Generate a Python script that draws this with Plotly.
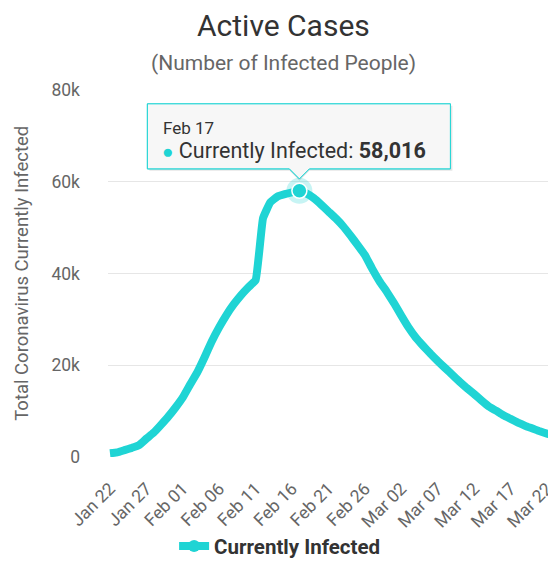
import datetime as dt
import plotly.graph_objects as go

# ---------------- data ----------------
start_date = "2020-01-22"
active_k = [
    0.8, 1.0, 1.5, 2.0, 2.6, 4.0, 5.3, 7.0, 8.8, 10.8,          # Jan 22 - Jan 31
    13.0, 15.8, 18.5, 21.8, 25.3, 28.3, 31.0, 33.3, 35.3, 37.0,  # Feb 01 - Feb 10
    38.6, 52.0, 55.5, 56.8, 57.3, 57.7, 58.016, 57.4, 56.4, 55.0,  # Feb 11 - Feb 20
    53.5, 52.0, 50.3, 48.3, 46.2, 44.0, 41.0, 38.3, 36.0,        # Feb 21 - Feb 29
    33.5, 30.8, 28.2, 26.0, 24.2, 22.5, 20.9, 19.4, 17.9, 16.4,  # Mar 01 - Mar 10
    15.0, 13.7, 12.3, 11.0, 10.1, 9.1, 8.3, 7.5, 6.8, 6.2,       # Mar 11 - Mar 20
    5.6, 5.1, 4.7,                                               # Mar 21 - Mar 23
]
series_name = "Currently Infected"
tick_labels = ["Jan 22", "Jan 27", "Feb 01", "Feb 06", "Feb 11", "Feb 16", "Feb 21",
               "Feb 26", "Mar 02", "Mar 07", "Mar 12", "Mar 17", "Mar 22"]
y_tick_vals = [0, 20000, 40000, 60000, 80000]
y_tick_text = ["0", "20k", "40k", "60k", "80k"]

# ---------------- derived ----------------
d0 = dt.date.fromisoformat(start_date)
dates = [d0 + dt.timedelta(days=i) for i in range(len(active_k))]
values = [round(v * 1000) for v in active_k]
tick_dates = [dt.datetime.strptime(t + " 2020", "%b %d %Y").date() for t in tick_labels]

peak_i = max(range(len(values)), key=lambda i: values[i])
peak_date, peak_val = dates[peak_i], values[peak_i]

COLOR = "#1fd4d4"
FONT = "Roboto"

fig = go.Figure()
fig.add_trace(go.Scatter(
    x=dates, y=values, mode="lines", name=series_name,
    line=dict(color=COLOR, width=8, shape="spline", smoothing=0.3),
    hoverinfo="skip", showlegend=False,
))
# legend entry
fig.add_trace(go.Scatter(
    x=[None], y=[None], mode="lines+markers", name=series_name,
    line=dict(color=COLOR, width=8),
    marker=dict(size=12, color=COLOR, line=dict(width=0)),
))
# highlighted point (halo + marker)
fig.add_trace(go.Scatter(
    x=[peak_date], y=[peak_val], mode="markers",
    marker=dict(size=26, color="rgba(31,212,212,0.25)", line=dict(width=0)),
    showlegend=False, hoverinfo="skip", cliponaxis=False,
))
fig.add_trace(go.Scatter(
    x=[peak_date], y=[peak_val], mode="markers",
    marker=dict(size=15, color=COLOR, line=dict(width=1.5, color="white")),
    showlegend=False, hoverinfo="skip", cliponaxis=False,
))

# tooltip callout (pixel-sized, anchored on the peak point)
callout = "M -152,22 L -10,22 L 0,12 L 10,22 L 151,22 L 151,87 L -152,87 Z"
shadow = "M -150,20 L -10,20 L 0,10 L 10,20 L 153,20 L 153,85 L -150,85 Z"
for path, fill, line in [(shadow, "rgba(0,0,0,0.10)", "rgba(0,0,0,0)"),
                         (callout, "rgba(247,247,247,0.97)", COLOR)]:
    fig.add_shape(type="path", path=path, xsizemode="pixel", ysizemode="pixel",
                  xanchor=peak_date, yanchor=peak_val, xref="x", yref="y",
                  fillcolor=fill, line=dict(color=line, width=1), layer="above")

fig.add_annotation(
    x=peak_date, y=peak_val, xref="x", yref="y", xshift=-138, yshift=63,
    xanchor="left", yanchor="middle", showarrow=False,
    text=peak_date.strftime("%b ") + str(peak_date.day),
    font=dict(family=FONT, size=17, color="#333333"),
)
fig.add_annotation(
    x=peak_date, y=peak_val, xref="x", yref="y", xshift=-139, yshift=40,
    xanchor="left", yanchor="middle", showarrow=False,
    text=(f"<span style='color:{COLOR};font-size:19px'>●</span> {series_name}: "
          f"<b>{peak_val:,}</b>"),
    font=dict(family=FONT, size=21.5, color="#333333"),
)

# titles
fig.add_annotation(xref="paper", yref="paper", x=0.398, y=1.175, showarrow=False,
                   text="Active Cases", xanchor="center", yanchor="middle",
                   font=dict(family=FONT, size=30, color="#333333"))
fig.add_annotation(xref="paper", yref="paper", x=0.398, y=1.074, showarrow=False,
                   text="(Number of Infected People)", xanchor="center", yanchor="middle",
                   font=dict(family=FONT, size=21, color="#666666"))
fig.add_annotation(xref="paper", yref="paper", x=-0.197, y=0.5, showarrow=False,
                   text="Total Coronavirus Currently Infected", textangle=-90,
                   xanchor="center", yanchor="middle",
                   font=dict(family=FONT, size=18.5, color="#666666"))

fig.update_layout(
    width=548, height=564,
    margin=dict(l=108, r=0, t=90, b=107, autoexpand=False),
    paper_bgcolor="white", plot_bgcolor="white",
    font=dict(family=FONT, color="#666666"),
    showlegend=True,
    legend=dict(orientation="h", x=0.39, y=-0.243, xanchor="center", yanchor="middle",
                font=dict(family=FONT, size=20.5, color="#333333", weight="bold"),
                itemwidth=30, bgcolor="rgba(0,0,0,0)", borderwidth=0),
    xaxis=dict(
        type="date",
        range=[dt.datetime(2020, 1, 21, 17, 30), dt.datetime(2020, 3, 22, 3, 0)],
        tickvals=tick_dates, ticktext=tick_labels, tickangle=-45,
        tickfont=dict(family=FONT, size=17.5, color="#666666"),
        showgrid=False, zeroline=False, showline=False, ticks="",
        ticklabelstandoff=17, automargin=False, ticklabeloverflow="allow",
    ),
    yaxis=dict(
        range=[0, 80000], tickvals=y_tick_vals, ticktext=y_tick_text,
        tickfont=dict(family=FONT, size=17.5, color="#666666"),
        showgrid=True, gridcolor="#e6e6e6", gridwidth=1,
        zeroline=False, showline=False, ticks="",
        ticklabelstandoff=27, automargin=False,
    ),
    shapes=[dict(type="line", xref="paper", yref="y", x0=0, x1=1, y0=0, y1=0,
                 line=dict(color="#ccd6eb", width=1), layer="below")] + list(fig.layout.shapes),
)

fig.write_html("out.html")
